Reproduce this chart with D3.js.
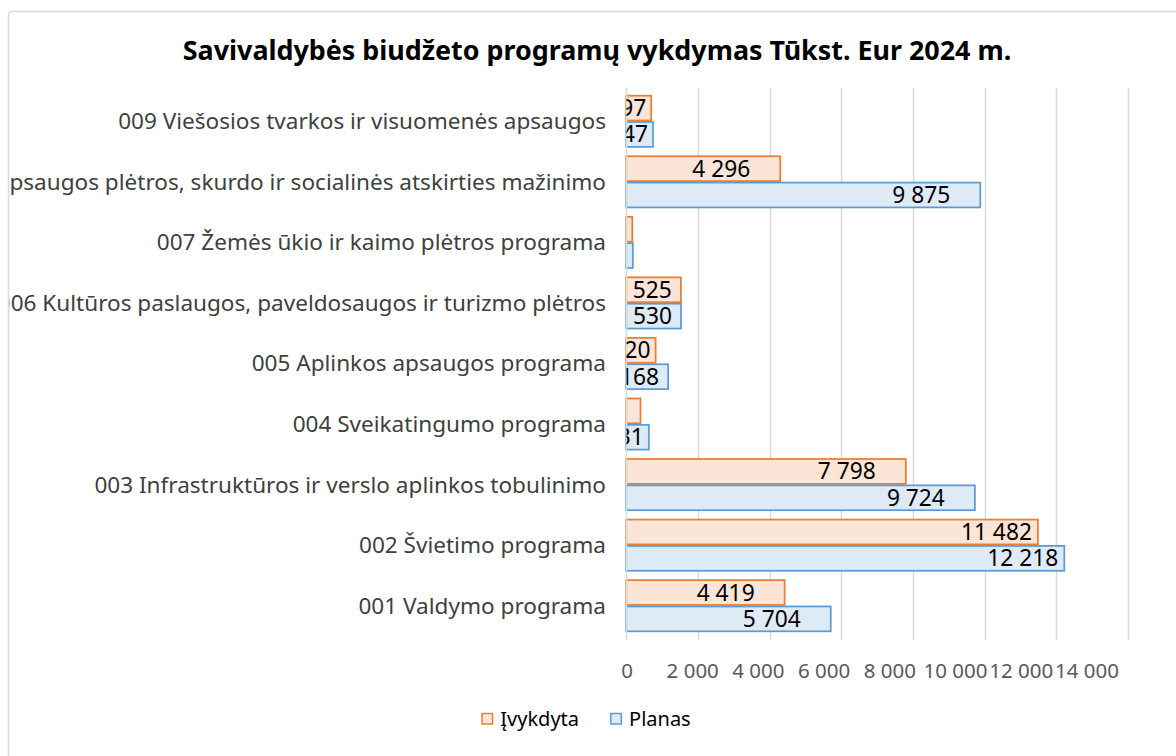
<!DOCTYPE html>
<html>
<head>
<meta charset="utf-8">
<script src="https://cdn.jsdelivr.net/npm/d3@7"></script>
<style>
  body { margin: 0; background: #fff; }
  svg { display: block; font-family: "Noto Sans", "Open Sans", sans-serif; }
</style>
</head>
<body>
<svg id="chart" width="1176" height="756"></svg>
<script>

// data, top category first (as drawn)
const categories = [
  "009 Viešosios tvarkos ir visuomenės apsaugos",
  "008 Socialinės apsaugos plėtros, skurdo ir socialinės atskirties mažinimo",
  "007 Žemės ūkio ir kaimo plėtros programa",
  "006 Kultūros paslaugos, paveldosaugos ir turizmo plėtros",
  "005 Aplinkos apsaugos programa",
  "004 Sveikatingumo programa",
  "003 Infrastruktūros ir verslo aplinkos tobulinimo",
  "002 Švietimo programa",
  "001 Valdymo programa"
]
const ivykdyta = [697, 4296, 170, 1525, 820, 400, 7798, 11482, 4419]
const planas   = [747, 9875, 185, 1530, 1168, 631, 9724, 12218, 5704]
const seriesNames = ["Įvykdyta", "Planas"]
const tickValues = [0, 2000, 4000, 6000, 8000, 10000, 12000, 14000]

const colors = {
  "Įvykdyta": { stroke: "#ED7D31", fill: "#FBE5D6" },
  "Planas":   { stroke: "#5B9BD5", fill: "#DEEBF7" }
}

const rows = categories.map((c, i) => ({ cat: c, "Įvykdyta": ivykdyta[i], "Planas": planas[i] }))

const svg = d3.select("#chart")

// chart frame
svg.append("rect")
  .attr("x", 8.5).attr("y", 11.5)
  .attr("width", 1180).attr("height", 760)
  .attr("rx", 3)
  .attr("fill", "#fff")
  .attr("stroke", "#d9d9d9")
  .attr("stroke-width", 1.5)

const defs = svg.append("defs")
defs.append("clipPath").attr("id", "frameClip")
  .append("rect").attr("x", 9.5).attr("y", 12).attr("width", 1170).attr("height", 750)
defs.append("clipPath").attr("id", "plotClip")
  .append("rect").attr("x", 626.5).attr("y", 80).attr("width", 560).attr("height", 580)

// scales
const x = d3.scaleLinear().domain([0, 14000]).range([626.2, 1128.2])
// tick labels in the reference are packed tighter than the gridlines
const xLabel = d3.scaleLinear().domain([0, 14000]).range([627, 1087])

const y = d3.scaleBand().domain(categories).range([91, 636])
  .paddingInner(0.13).paddingOuter(0.065)
const ySub = d3.scaleBand().domain(seriesNames).range([0, y.bandwidth()])

// gridlines
svg.append("g")
  .selectAll("line")
  .data(tickValues.slice(1))
  .join("line")
  .attr("x1", d => Math.round(x(d)) + 0.5)
  .attr("x2", d => Math.round(x(d)) + 0.5)
  .attr("y1", 88).attr("y2", 640)
  .attr("stroke", "#d9d9d9")
  .attr("stroke-width", 1.5)

// bars
const bars = svg.append("g")
rows.forEach(r => {
  seriesNames.forEach(s => {
    bars.append("rect")
      .attr("x", x(0))
      .attr("y", y(r.cat) + ySub(s) + 0.75)
      .attr("width", x(r[s]) - x(0))
      .attr("height", ySub.bandwidth() - 1.5)
      .attr("fill", colors[s].fill)
      .attr("stroke", colors[s].stroke)
      .attr("stroke-width", 1.75)
  })
})

// vertical axis line
svg.append("line")
  .attr("x1", 626.5).attr("x2", 626.5)
  .attr("y1", 88).attr("y2", 640)
  .attr("stroke", "#d9d9d9")
  .attr("stroke-width", 1.5)

// data labels (inside end, clipped to the plot area)
const fmt = v => d3.format(",")(v).replace(/,/g, "\u00a0")
const labelGap = v => v >= 10000 ? 6 : v >= 4000 ? 30 : v >= 1000 ? 9 : 5

const labels = svg.append("g").attr("clip-path", "url(#plotClip)")
rows.forEach(r => {
  seriesNames.forEach(s => {
    const w = x(r[s]) - x(0)
    if (w < 18) return
    labels.append("text")
      .attr("class", "dlabel")
      .attr("x", x(r[s]) - labelGap(r[s]))
      .attr("y", y(r.cat) + ySub(s) + ySub.bandwidth() / 2)
      .attr("dy", "0.35em")
      .attr("text-anchor", "end")
      .attr("fill", "#000")
      .attr("font-size", 22)
      .text(fmt(r[s]))
  })
})

// category labels
const catLabels = svg.append("g").attr("clip-path", "url(#frameClip)")
  .selectAll("text")
  .data(categories)
  .join("text")
  .attr("x", 606)
  .attr("y", d => y(d) + y.bandwidth() / 2)
  .attr("dy", "0.35em")
  .attr("text-anchor", "end")
  .attr("fill", "#404040")
  .attr("font-size", 20)
  .text(d => d)

// x tick labels
svg.append("g")
  .selectAll("text")
  .data(tickValues)
  .join("text")
  .attr("x", d => xLabel(d))
  .attr("y", 671)
  .attr("dy", "0.35em")
  .attr("text-anchor", "middle")
  .attr("fill", "#595959")
  .attr("font-size", 20.5)
  .text(d => fmt(d))

// title
const title = svg.append("text")
  .attr("x", 597)
  .attr("y", 51)
  .attr("dy", "0.35em")
  .attr("text-anchor", "middle")
  .attr("font-weight", "bold")
  .attr("fill", "#000")
  .attr("font-size", 24)
  .text("Savivaldybės biudžeto programų vykdymas Tūkst. Eur 2024 m.")

// fit sizes to the widths measured on the reference
function fitFont(sel, target) {
  const size = +sel.attr("font-size")
  const w = sel.node().getComputedTextLength()
  return size * target / w
}
title.attr("font-size", fitFont(title, 829))

const firstCat = catLabels.filter((d, i) => i === 0)
catLabels.attr("font-size", fitFont(firstCat, 488))

const lbl = svg.selectAll(".dlabel").filter(function () { return this.textContent === fmt(9875) })
if (!lbl.empty()) {
  const ds = fitFont(lbl, 58)
  svg.selectAll(".dlabel").attr("font-size", ds)
}

// legend
const legend = svg.append("g")
let lx = 0
seriesNames.forEach(s => {
  const g = legend.append("g").attr("transform", `translate(${lx},0)`)
  g.append("rect")
    .attr("x", 0.75).attr("y", -5.5)
    .attr("width", 10.5).attr("height", 10.5)
    .attr("fill", colors[s].fill)
    .attr("stroke", colors[s].stroke)
    .attr("stroke-width", 1.5)
  const tx = g.append("text")
    .attr("x", 19)
    .attr("y", 0)
    .attr("dy", "0.35em")
    .attr("fill", "#000")
    .attr("font-size", 20)
    .text(s)
  lx += 19 + tx.node().getComputedTextLength() + 31
})
const legendWidth = lx - 31
legend.attr("transform", `translate(${586 - legendWidth / 2},719)`)

</script>
</body>
</html>
